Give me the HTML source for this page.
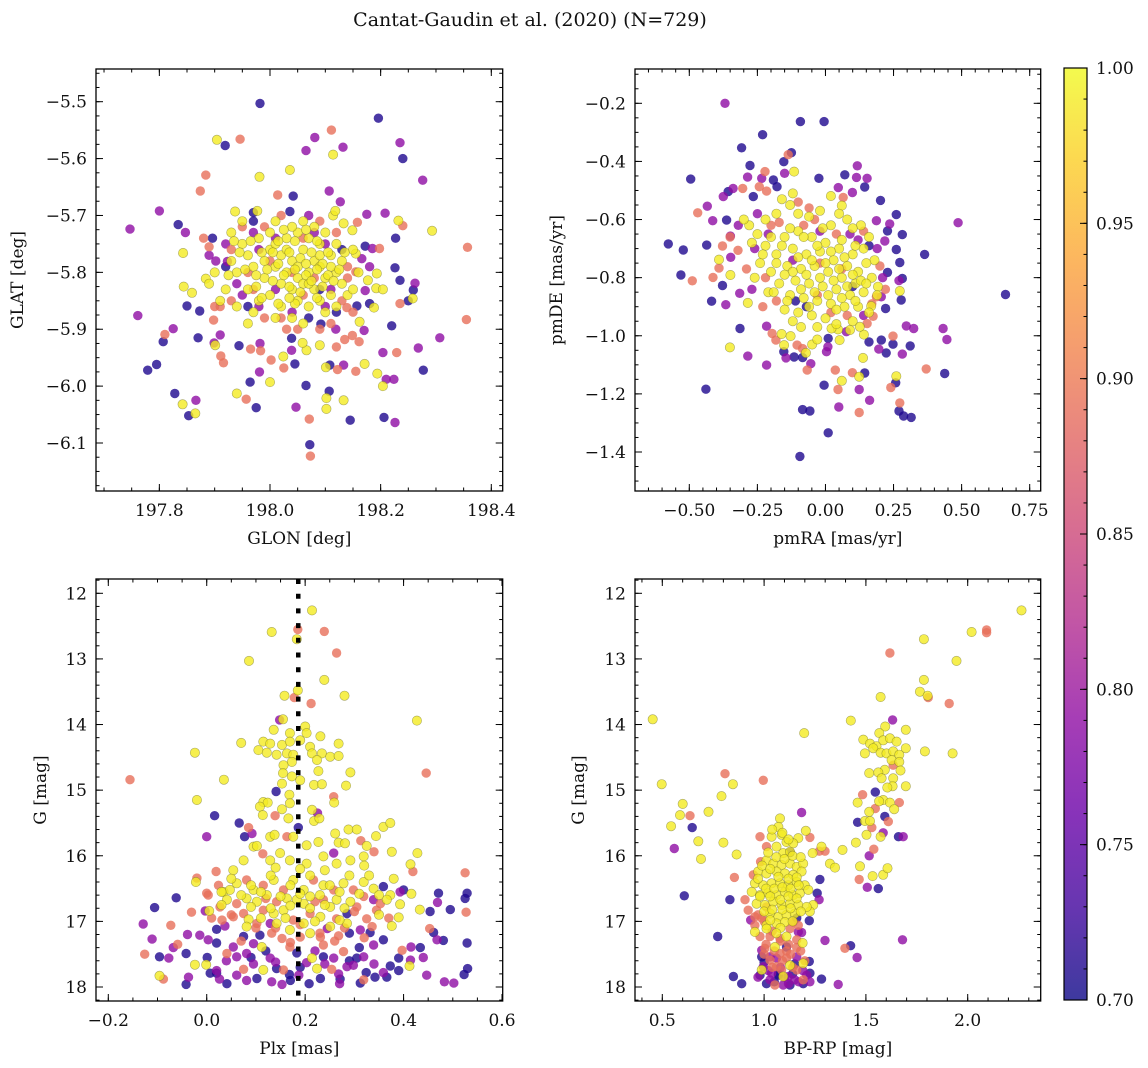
<!DOCTYPE html>
<html><head><meta charset="utf-8">
<style>
html,body{margin:0;padding:0;background:#fff;}
svg{display:block;font-family:"DejaVu Serif","Liberation Serif",serif;}
</style></head>
<body>
<svg id="fig" width="1148" height="1068" viewBox="0 0 1148 1068" xmlns="http://www.w3.org/2000/svg">
<text x="530" y="26" font-size="19" text-anchor="middle" fill="#111">Cantat-Gaudin et al. (2020) (N=729)</text>
<defs>
<linearGradient id="cbg" x1="0" y1="1" x2="0" y2="0">
<stop offset="0" stop-color="#0d0887"/><stop offset="0.1" stop-color="#41049d"/><stop offset="0.2" stop-color="#6a00a8"/><stop offset="0.3" stop-color="#8f0da4"/><stop offset="0.4" stop-color="#b12a90"/><stop offset="0.5" stop-color="#cc4778"/><stop offset="0.6" stop-color="#e16462"/><stop offset="0.7" stop-color="#f2844b"/><stop offset="0.8" stop-color="#fca636"/><stop offset="0.9" stop-color="#fcce25"/><stop offset="1" stop-color="#f0f921"/>
</linearGradient>
</defs>
<g id="cbar">
<rect x="1064" y="68" width="23" height="932" fill="url(#cbg)" opacity="0.8"/>
<rect x="1064" y="68" width="23" height="932" fill="none" stroke="#000" stroke-width="1.2"/>
</g>
</svg>
<script>
// ---------------- data ----------------
const skyTicksX = [197.8, 198.0, 198.2, 198.4];
const skyTicksY = [-5.5, -5.6, -5.7, -5.8, -5.9, -6.0, -6.1];
const pmTicksX = [-0.5, -0.25, 0, 0.25, 0.5, 0.75];
const pmTicksY = [-0.2, -0.4, -0.6, -0.8, -1.0, -1.2, -1.4];
const plxTicksX = [-0.2, 0.0, 0.2, 0.4, 0.6];
const magTicksY = [12, 13, 14, 15, 16, 17, 18];
const colTicksX = [0.5, 1.0, 1.5, 2.0];
const cbarTicks = [0.70, 0.75, 0.80, 0.85, 0.90, 0.95, 1.00];
const plxMeanLine = [0.186];

// [GLON, GLAT, membership]
const skyPoints = [
[197.982,-5.503,0.71],[198.196,-5.529,0.71],[197.904,-5.567,0.99],[197.919,-5.577,0.71],[197.946,-5.566,0.89],[198.081,-5.563,0.79],[198.111,-5.550,0.89],[198.065,-5.586,0.79],[198.114,-5.593,0.99],[198.132,-5.580,0.79],[198.235,-5.572,0.79],[198.240,-5.600,0.71],[198.276,-5.638,0.79],[198.036,-5.620,0.99],[197.981,-5.632,0.99],[197.884,-5.629,0.89],[197.874,-5.657,0.89],[198.014,-5.664,0.89],[198.042,-5.666,0.71],[198.107,-5.657,0.79],[198.127,-5.676,0.79],[197.800,-5.692,0.79],[197.747,-5.724,0.79],[197.834,-5.716,0.71],[197.847,-5.730,0.79],[197.970,-5.695,0.71],[197.937,-5.693,0.99],[197.977,-5.692,0.99],[198.036,-5.693,0.71],[198.175,-5.698,0.79],[198.208,-5.696,0.79],[198.232,-5.709,0.99],[198.240,-5.718,0.89],[198.293,-5.727,0.99],[198.357,-5.756,0.89],[198.227,-5.740,0.71],[197.843,-5.766,0.99],[197.896,-5.740,0.71],[197.890,-5.755,0.89],[197.902,-5.780,0.79],[197.923,-5.781,0.79],[198.226,-5.792,0.71],[198.235,-5.814,0.71],[198.262,-5.819,0.79],[198.259,-5.831,0.71],[197.884,-5.811,0.99],[197.844,-5.825,0.99],[197.859,-5.836,0.99],[197.850,-5.859,0.71],[197.873,-5.868,0.71],[197.761,-5.876,0.79],[197.898,-5.884,0.89],[197.825,-5.899,0.79],[197.810,-5.909,0.89],[197.807,-5.922,0.71],[197.870,-5.915,0.71],[197.910,-5.910,0.79],[197.901,-5.928,0.99],[197.899,-5.924,0.79],[197.944,-5.929,0.71],[197.911,-5.947,0.89],[197.916,-5.959,0.89],[197.795,-5.962,0.71],[197.779,-5.972,0.71],[197.965,-5.935,0.89],[197.983,-5.938,0.89],[197.982,-5.925,0.79],[198.002,-5.954,0.89],[198.024,-5.948,0.99],[198.025,-5.968,0.89],[198.045,-5.961,0.71],[197.981,-5.975,0.79],[198.000,-5.993,0.99],[197.964,-5.993,0.71],[198.065,-5.999,0.71],[198.107,-6.009,0.71],[198.102,-6.021,0.99],[198.102,-6.040,0.99],[198.133,-6.025,0.99],[198.047,-6.037,0.79],[197.940,-6.013,0.99],[197.957,-6.023,0.89],[197.975,-6.038,0.71],[197.828,-6.013,0.71],[197.842,-6.032,0.99],[197.866,-6.025,0.79],[197.853,-6.052,0.71],[197.865,-6.048,0.99],[198.071,-6.058,0.89],[198.145,-6.060,0.71],[198.206,-6.055,0.71],[198.226,-6.064,0.79],[198.072,-6.103,0.71],[198.073,-6.123,0.89],[198.101,-5.967,0.99],[198.108,-5.963,0.71],[198.122,-5.971,0.89],[198.133,-5.963,0.79],[198.155,-5.974,0.89],[198.171,-5.961,0.99],[198.194,-5.978,0.99],[198.210,-5.988,0.79],[198.224,-5.988,0.79],[198.204,-6.000,0.99],[198.277,-5.972,0.71],[198.204,-5.941,0.79],[198.229,-5.941,0.89],[198.268,-5.933,0.79],[198.307,-5.915,0.79],[198.220,-5.894,0.71],[198.355,-5.883,0.89],[198.170,-5.902,0.79],[198.161,-5.922,0.89],[198.149,-5.911,0.89],[198.135,-5.918,0.89],[198.120,-5.931,0.89],[198.119,-5.900,0.79],[198.090,-5.928,0.99],[198.066,-5.937,0.99],[198.059,-5.924,0.99],[198.039,-5.937,0.79],[198.039,-5.916,0.71],[198.092,-5.891,0.71],[198.162,-5.887,0.99],[198.157,-5.859,0.71],[198.180,-5.855,0.71],[198.188,-5.862,0.99],[198.235,-5.855,0.89],[198.258,-5.846,0.99],[198.250,-5.850,0.71],[198.139,-5.862,0.89],[198.193,-5.802,0.99],[198.177,-5.814,0.99],[198.192,-5.828,0.99],[198.204,-5.830,0.99],[198.172,-5.832,0.79],[198.198,-5.758,0.89],[198.185,-5.758,0.79],[198.172,-5.754,0.71],[198.158,-5.712,0.89],[198.149,-5.726,0.99],[198.133,-5.714,0.99],[198.114,-5.700,0.99],[198.118,-5.692,0.99],[198.155,-5.767,0.99],[198.166,-5.776,0.79],[198.180,-5.790,0.79],[198.155,-5.799,0.89],
[198.00,-5.76,0.99],[198.02,-5.77,0.99],[198.04,-5.78,0.99],[198.06,-5.76,0.99],[198.08,-5.78,0.99],[198.01,-5.79,0.99],[198.03,-5.80,0.99],[198.05,-5.81,0.99],[198.07,-5.80,0.99],[198.09,-5.79,0.99],[197.99,-5.81,0.99],[198.02,-5.82,0.99],[198.04,-5.83,0.99],[198.06,-5.82,0.99],[198.08,-5.83,0.99],[198.10,-5.81,0.99],[197.98,-5.74,0.99],[198.00,-5.73,0.99],[198.03,-5.74,0.99],[198.05,-5.73,0.99],[198.07,-5.74,0.99],[198.09,-5.75,0.99],[198.11,-5.77,0.99],[197.96,-5.77,0.99],[197.97,-5.79,0.99],[197.95,-5.75,0.99],[197.94,-5.80,0.99],[197.96,-5.83,0.99],[197.98,-5.85,0.99],[198.00,-5.84,0.99],[198.02,-5.86,0.99],[198.05,-5.85,0.99],[198.07,-5.86,0.99],[198.09,-5.85,0.99],[198.11,-5.84,0.99],[198.12,-5.80,0.99],[198.13,-5.78,0.99],[198.12,-5.75,0.99],[198.10,-5.73,0.99],[198.06,-5.71,0.99],[198.04,-5.72,0.99],[198.01,-5.71,0.99],[197.93,-5.78,0.99],[197.92,-5.83,0.99],[197.91,-5.85,0.99],[197.94,-5.86,0.99],[198.13,-5.82,0.99],[198.14,-5.84,0.99],[198.04,-5.88,0.99],[198.06,-5.89,0.99],[198.01,-5.88,0.99],[197.97,-5.87,0.99],[198.08,-5.72,0.99],[198.03,-5.76,0.99],[198.05,-5.79,0.99],[198.01,-5.75,0.99],[198.07,-5.82,0.99],[197.99,-5.78,0.99],[198.09,-5.77,0.99],[198.11,-5.79,0.99],[197.93,-5.73,0.99],[197.95,-5.71,0.99],[198.15,-5.76,0.99],[198.16,-5.80,0.99],[198.15,-5.83,0.99],[197.90,-5.80,0.99],[197.89,-5.82,0.99],[198.10,-5.87,0.99],[198.12,-5.86,0.99],[197.96,-5.89,0.99],
[197.985,-5.765,0.99],[198.015,-5.785,0.99],[198.035,-5.765,0.99],[198.055,-5.775,0.99],[198.075,-5.765,0.99],[198.095,-5.785,0.99],[197.995,-5.795,0.99],[198.025,-5.805,0.99],[198.045,-5.795,0.99],[198.065,-5.805,0.99],[198.085,-5.795,0.99],[198.105,-5.805,0.99],[197.975,-5.825,0.99],[198.005,-5.815,0.99],[198.035,-5.825,0.99],[198.055,-5.835,0.99],[198.075,-5.815,0.99],[198.095,-5.825,0.99],[198.115,-5.815,0.99],[197.965,-5.745,0.99],[198.015,-5.745,0.99],[198.045,-5.745,0.99],[198.085,-5.745,0.99],[198.105,-5.765,0.99],[197.945,-5.765,0.99],[197.955,-5.795,0.99],[197.985,-5.845,0.99],[198.015,-5.855,0.99],[198.045,-5.855,0.99],[198.085,-5.845,0.99],[198.025,-5.725,0.99],[198.065,-5.725,0.99],[197.935,-5.745,0.99],[198.125,-5.795,0.99],[198.135,-5.765,0.99],[197.925,-5.805,0.99],[198.035,-5.845,0.99],[198.005,-5.765,0.99],[198.065,-5.785,0.99],[197.975,-5.805,0.99],
[197.93,-5.76,0.89],[197.95,-5.72,0.89],[197.97,-5.73,0.79],[197.98,-5.76,0.79],[197.92,-5.79,0.71],[197.94,-5.82,0.79],[197.95,-5.84,0.79],[197.93,-5.85,0.89],[197.91,-5.86,0.89],[197.90,-5.86,0.89],[197.98,-5.86,0.79],[197.99,-5.88,0.89],[198.02,-5.88,0.89],[198.03,-5.90,0.89],[198.05,-5.90,0.89],[198.07,-5.88,0.71],[198.09,-5.90,0.89],[198.11,-5.89,0.89],[198.12,-5.87,0.71],[198.13,-5.85,0.89],[198.14,-5.81,0.89],[198.12,-5.73,0.89],[198.09,-5.71,0.89],[198.08,-5.73,0.79],[198.06,-5.74,0.89],[198.10,-5.75,0.79],[198.01,-5.74,0.79],[198.00,-5.78,0.89],[198.04,-5.80,0.89],[198.08,-5.81,0.89],[198.11,-5.83,0.79],[197.96,-5.80,0.89],[198.06,-5.84,0.89],[198.01,-5.83,0.79],[197.97,-5.71,0.71],[198.13,-5.76,0.71],[198.09,-5.83,0.71],[198.04,-5.87,0.79],[197.96,-5.86,0.71],[197.99,-5.72,0.89],[198.15,-5.87,0.89],[198.07,-5.70,0.79],[197.88,-5.74,0.89],[197.89,-5.77,0.79],[197.97,-5.83,0.89],[198.10,-5.86,0.79],[198.02,-5.70,0.89],[197.92,-5.75,0.79],[198.14,-5.79,0.89]
];

// [pmRA, pmDE, membership]
const pmPoints = [
[-0.369,-0.200,0.79],[-0.092,-0.263,0.71],[-0.005,-0.263,0.71],[-0.231,-0.308,0.71],[-0.308,-0.353,0.71],[-0.125,-0.370,0.71],[-0.137,-0.377,0.89],[-0.495,-0.461,0.71],[-0.277,-0.414,0.71],[-0.222,-0.435,0.89],[-0.286,-0.454,0.79],[-0.115,-0.435,0.99],[-0.024,-0.458,0.71],[0.071,-0.446,0.71],[0.117,-0.415,0.79],[0.114,-0.455,0.79],[0.153,-0.458,0.79],[0.144,-0.488,0.71],[0.047,-0.490,0.79],[0.099,-0.507,0.79],[0.020,-0.519,0.99],[0.065,-0.524,0.89],[0.060,-0.552,0.99],[0.202,-0.534,0.71],[0.260,-0.583,0.71],[0.487,-0.611,0.79],[0.236,-0.615,0.79],[0.187,-0.604,0.79],[0.228,-0.639,0.71],[0.282,-0.652,0.71],[0.364,-0.720,0.71],[0.260,-0.703,0.71],[0.273,-0.748,0.71],[0.218,-0.674,0.79],[0.228,-0.782,0.71],[0.270,-0.810,0.79],[0.282,-0.803,0.71],[0.278,-0.877,0.71],[0.273,-0.846,0.99],[0.221,-0.906,0.71],[0.661,-0.858,0.71],[-0.577,-0.684,0.71],[-0.522,-0.705,0.71],[-0.436,-0.688,0.71],[-0.469,-0.577,0.89],[-0.434,-0.554,0.79],[-0.414,-0.604,0.79],[-0.363,-0.602,0.71],[-0.375,-0.521,0.79],[-0.357,-0.504,0.71],[-0.339,-0.493,0.79],[-0.304,-0.493,0.89],[-0.265,-0.521,0.71],[-0.243,-0.487,0.89],[-0.216,-0.502,0.89],[-0.191,-0.464,0.71],[-0.178,-0.487,0.71],[-0.150,-0.441,0.79],[-0.153,-0.401,0.71],[-0.234,-0.458,0.79],[-0.531,-0.791,0.71],[-0.489,-0.811,0.89],[-0.418,-0.881,0.71],[-0.378,-0.827,0.71],[-0.366,-0.893,0.79],[-0.413,-0.799,0.89],[-0.391,-0.767,0.89],[-0.391,-0.738,0.99],[-0.349,-0.791,0.99],[-0.378,-0.691,0.89],[-0.349,-0.657,0.79],[-0.348,-0.730,0.79],[-0.321,-0.706,0.89],[-0.315,-0.854,0.79],[-0.285,-0.887,0.99],[-0.314,-0.975,0.71],[-0.351,-1.040,0.99],[-0.285,-1.070,0.79],[-0.216,-1.101,0.79],[-0.439,-1.184,0.71],[-0.216,-0.967,0.79],[-0.196,-0.992,0.89],[-0.182,-1.015,0.89],[-0.161,-0.994,0.99],[-0.128,-1.001,0.99],[-0.152,-1.032,0.99],[-0.153,-1.055,0.71],[-0.145,-1.076,0.79],[-0.115,-1.073,0.71],[-0.084,-1.075,0.71],[-0.104,-1.032,0.89],[-0.084,-1.044,0.89],[-0.072,-1.059,0.99],[-0.054,-1.096,0.79],[-0.067,-1.118,0.89],[-0.049,-1.030,0.99],[-0.030,-1.013,0.99],[0.009,-1.038,0.79],[0.004,-1.055,0.79],[-0.005,-1.170,0.71],[0.036,-1.118,0.89],[0.060,-1.155,0.99],[0.046,-1.185,0.89],[0.049,-1.245,0.79],[0.099,-1.127,0.89],[0.124,-1.141,0.99],[0.144,-1.128,0.71],[0.138,-1.076,0.99],[0.124,-1.185,0.79],[0.162,-1.222,0.79],[0.124,-1.264,0.89],[-0.084,-1.254,0.71],[-0.057,-1.259,0.71],[0.010,-1.334,0.71],[-0.094,-1.415,0.71],[0.240,-1.178,0.89],[0.260,-1.139,0.99],[0.258,-1.162,0.71],[0.273,-1.231,0.89],[0.270,-1.259,0.71],[0.287,-1.276,0.71],[0.315,-1.281,0.71],[0.370,-1.114,0.89],[0.438,-1.130,0.71],[0.432,-0.975,0.79],[0.446,-1.013,0.79],[0.297,-0.966,0.79],[0.324,-0.975,0.79],[0.311,-1.035,0.71],[0.282,-1.063,0.79],[0.248,-1.029,0.71],[0.248,-1.001,0.89],[0.205,-1.015,0.71],[0.196,-1.046,0.79],[0.223,-1.059,0.71],[0.160,-1.021,0.71],[0.141,-0.996,0.99],[0.126,-0.969,0.99],[0.153,-0.958,0.89],[0.175,-0.933,0.89],[0.168,-0.898,0.99],[0.187,-0.866,0.89],[0.193,-0.831,0.99],[0.205,-0.866,0.79],[0.077,-0.986,0.79],[0.046,-0.978,0.99],[0.022,-0.975,0.99],[0.052,-1.015,0.99],[0.010,-1.009,0.71],
[-0.15,-0.66,0.99],[-0.10,-0.64,0.99],[-0.05,-0.66,0.99],[0.00,-0.68,0.99],[0.05,-0.70,0.99],[0.10,-0.72,0.99],[-0.18,-0.72,0.99],[-0.12,-0.70,0.99],[-0.07,-0.72,0.99],[-0.02,-0.71,0.99],[0.03,-0.74,0.99],[0.08,-0.76,0.99],[0.12,-0.78,0.99],[-0.20,-0.78,0.99],[-0.14,-0.76,0.99],[-0.09,-0.77,0.99],[-0.04,-0.76,0.99],[0.01,-0.78,0.99],[0.06,-0.80,0.99],[0.11,-0.82,0.99],[-0.17,-0.82,0.99],[-0.11,-0.81,0.99],[-0.06,-0.82,0.99],[-0.01,-0.83,0.99],[0.04,-0.84,0.99],[0.09,-0.86,0.99],[0.14,-0.85,0.99],[-0.13,-0.86,0.99],[-0.08,-0.87,0.99],[-0.03,-0.88,0.99],[0.02,-0.89,0.99],[0.07,-0.90,0.99],[-0.15,-0.91,0.99],[-0.10,-0.92,0.99],[-0.05,-0.93,0.99],[0.00,-0.94,0.99],[-0.22,-0.69,0.99],[-0.25,-0.65,0.99],[-0.28,-0.62,0.99],[-0.30,-0.60,0.99],[-0.22,-0.60,0.99],[-0.18,-0.58,0.99],[-0.13,-0.55,0.99],[-0.10,-0.58,0.99],[-0.06,-0.59,0.99],[-0.12,-0.51,0.99],[-0.16,-0.53,0.99],[0.02,-0.62,0.99],[0.05,-0.58,0.99],[0.08,-0.60,0.99],[0.13,-0.62,0.99],[0.16,-0.66,0.99],[0.14,-0.70,0.99],[0.18,-0.74,0.99],[0.17,-0.80,0.99],[-0.24,-0.75,0.99],[-0.26,-0.80,0.99],[-0.21,-0.85,0.99],[0.12,-0.90,0.99],[0.16,-0.92,0.99],[0.19,-0.86,0.99],[-0.03,-0.97,0.99],[0.04,-0.96,0.99],[-0.09,-0.97,0.99],[0.10,-0.95,0.99],
[-0.13,-0.63,0.99],[-0.08,-0.66,0.99],[-0.03,-0.69,0.99],[0.02,-0.71,0.99],[0.07,-0.73,0.99],[-0.16,-0.69,0.99],[-0.10,-0.73,0.99],[-0.05,-0.74,0.99],[0.00,-0.75,0.99],[0.05,-0.77,0.99],[0.10,-0.79,0.99],[-0.18,-0.75,0.99],[-0.12,-0.78,0.99],[-0.07,-0.79,0.99],[-0.02,-0.80,0.99],[0.03,-0.81,0.99],[0.08,-0.83,0.99],[0.13,-0.81,0.99],[-0.15,-0.79,0.99],[-0.09,-0.84,0.99],[-0.04,-0.85,0.99],[0.01,-0.86,0.99],[0.06,-0.87,0.99],[0.11,-0.88,0.99],[-0.19,-0.85,0.99],[-0.14,-0.88,0.99],[-0.06,-0.90,0.99],[0.04,-0.91,0.99],[-0.01,-0.63,0.99],[0.06,-0.67,0.99],[0.11,-0.69,0.99],[0.15,-0.75,0.99],[-0.23,-0.72,0.99],[-0.20,-0.66,0.99],[-0.27,-0.68,0.99],[0.15,-0.82,0.99],[-0.12,-0.95,0.99],[0.09,-0.98,0.99],[-0.02,-0.57,0.99],[0.10,-0.63,0.99],
[-0.20,-0.62,0.89],[-0.25,-0.58,0.79],[-0.17,-0.61,0.89],[-0.08,-0.62,0.89],[-0.04,-0.60,0.89],[-0.06,-0.56,0.89],[-0.10,-0.54,0.89],[-0.02,-0.64,0.79],[0.04,-0.65,0.89],[0.09,-0.65,0.79],[0.12,-0.67,0.79],[0.14,-0.64,0.89],[0.16,-0.69,0.71],[0.19,-0.70,0.79],[0.20,-0.76,0.89],[0.21,-0.80,0.79],[0.22,-0.84,0.89],[0.17,-0.89,0.89],[0.14,-0.93,0.79],[0.08,-0.93,0.89],[-0.18,-0.88,0.89],[-0.23,-0.90,0.89],[-0.27,-0.84,0.79],[-0.29,-0.77,0.89],[-0.22,-0.80,0.89],[-0.26,-0.70,0.79],[-0.21,-0.65,0.79],[-0.11,-0.88,0.71],[-0.07,-0.90,0.71],[0.02,-0.92,0.89],[-0.02,-0.75,0.89],[0.06,-0.77,0.89],[-0.12,-0.74,0.79],[0.10,-0.83,0.71],[-0.03,-0.86,0.89],[-0.32,-0.62,0.79],[-0.35,-0.66,0.89]
];

// [Plx, G, membership]
const plxPoints = [
[0.214,12.26,0.99],[0.132,12.59,0.99],[0.185,12.55,0.89],[0.183,12.70,0.99],[0.239,12.58,0.89],[0.264,12.91,0.89],[0.086,13.03,0.99],[0.239,13.32,0.99],[0.158,13.56,0.99],[0.178,13.59,0.89],[0.185,13.48,0.99],[0.280,13.56,0.99],[0.212,13.68,0.89],[0.427,13.94,0.99],[-0.024,14.43,0.99],[0.070,14.28,0.99],[-0.156,14.84,0.89],[0.035,14.84,0.99],[0.446,14.74,0.89],[-0.020,15.15,0.99],[0.141,15.02,0.71],[0.016,15.39,0.71],[0.066,15.50,0.71],[0.085,15.57,0.89],[0.077,15.71,0.71],[0.000,15.71,0.79],[0.092,15.66,0.79],
[0.148,13.93,0.79],[0.155,13.92,0.99],[0.136,14.08,0.99],[0.169,14.13,0.99],[0.200,14.03,0.99],[0.203,14.13,0.99],[0.115,14.26,0.99],[0.129,14.29,0.99],[0.153,14.31,0.99],[0.169,14.26,0.99],[0.190,14.24,0.99],[0.210,14.34,0.99],[0.231,14.18,0.99],[0.268,14.29,0.99],[0.105,14.39,0.99],[0.122,14.43,0.99],[0.142,14.46,0.99],[0.163,14.44,0.99],[0.176,14.46,0.99],[0.214,14.44,0.99],[0.234,14.44,0.99],[0.251,14.49,0.99],[0.268,14.48,0.99],[0.224,14.54,0.99],[0.173,14.57,0.99],[0.156,14.62,0.99],[0.227,14.71,0.99],[0.292,14.73,0.99],[0.155,14.74,0.99],[0.173,14.79,0.99],[0.190,14.85,0.99],[0.218,14.92,0.99],[0.234,14.91,0.99],[0.283,14.93,0.99],[0.153,14.90,0.99],[0.168,15.07,0.99],[0.258,15.10,0.89],[0.259,15.19,0.99],[0.115,15.18,0.99],[0.124,15.19,0.99],[0.108,15.25,0.99],[0.114,15.38,0.99],[0.153,15.29,0.99],[0.169,15.20,0.99],[0.214,15.30,0.99],[0.225,15.35,0.79],[0.139,15.39,0.89],[0.166,15.43,0.99],[0.218,15.47,0.99],[0.229,15.43,0.99],[0.186,15.57,0.71],
[0.129,15.71,0.99],[0.138,15.68,0.99],[0.163,15.71,0.89],[0.176,15.71,0.99],[0.203,15.84,0.99],[0.227,15.79,0.99],[0.261,15.66,0.99],[0.288,15.60,0.99],[0.305,15.60,0.99],[0.268,15.80,0.99],[0.281,15.81,0.99],[0.313,15.77,0.89],[0.325,15.85,0.99],[0.344,15.70,0.99],[0.359,15.56,0.99],[0.373,15.50,0.99],[0.376,15.94,0.99],[0.340,15.94,0.89],[0.428,15.96,0.99],[0.414,16.13,0.99],[0.419,16.24,0.89],[0.525,16.26,0.89],[0.095,15.86,0.99],[0.102,15.85,0.99],[0.114,15.97,0.89],[0.129,16.07,0.99],[0.149,15.96,0.99],[0.169,16.07,0.99],[0.203,16.12,0.99],[0.237,16.01,0.99],[0.258,15.96,0.79],[0.264,16.12,0.99],[0.292,16.07,0.99],[0.319,16.01,0.99],[0.075,16.07,0.99],[0.054,16.22,0.99],[0.019,16.24,0.89],[-0.020,16.34,0.89],[-0.022,16.40,0.99],[0.000,16.57,0.89],[-0.062,16.64,0.71],[-0.106,16.79,0.71],[-0.129,17.04,0.79],[-0.073,17.06,0.89],[-0.111,17.27,0.79],[-0.126,17.50,0.89],[-0.096,17.54,0.71],[-0.077,17.56,0.79],[-0.096,17.83,0.99],[-0.088,17.88,0.89],[-0.042,17.96,0.71],[-0.037,17.85,0.79],[-0.024,17.66,0.99],[-0.001,17.66,0.99],[0.001,17.55,0.71],[0.007,17.79,0.71],[0.020,17.79,0.71],[0.041,17.95,0.71],[0.026,17.88,0.79],[-0.039,17.20,0.79],[-0.059,17.35,0.89],[-0.068,17.40,0.79],[-0.042,17.49,0.71],[-0.031,16.86,0.89],[-0.003,16.84,0.79],[0.005,16.84,0.99],[0.003,16.60,0.89],[0.024,16.45,0.89],[0.034,16.55,0.99],[0.047,16.52,0.99],[0.061,16.42,0.99],[0.081,16.37,0.89],[0.095,16.52,0.99],[0.115,16.45,0.89],[0.136,16.37,0.99],[0.156,16.52,0.89],[0.176,16.37,0.99],[0.197,16.52,0.99],[0.217,16.37,0.89],[0.237,16.45,0.99],[0.258,16.52,0.89],[0.278,16.42,0.99],[0.298,16.52,0.89],[0.319,16.40,0.99],[0.339,16.50,0.99],[0.359,16.47,0.71],[0.373,16.60,0.99],[0.393,16.55,0.79],[0.400,16.52,0.71],[0.416,16.58,0.99],[0.471,16.57,0.71],[0.469,16.71,0.79],[0.525,16.65,0.71],[0.529,16.57,0.71],[0.495,16.82,0.71],[0.454,16.85,0.71],[0.527,16.86,0.89],[0.433,16.82,0.99],[0.393,16.74,0.99],[0.376,17.07,0.99],[0.390,16.94,0.99],[0.453,17.11,0.89],[0.461,17.17,0.71],[0.481,17.29,0.71],[0.468,17.28,0.79],[0.529,17.33,0.71],[0.530,17.72,0.71],[0.523,17.81,0.71],[0.483,17.92,0.79],[0.502,17.94,0.79],[0.447,17.82,0.79],[0.434,17.40,0.71],[0.412,17.68,0.99],[0.397,17.44,0.89],[0.415,17.39,0.79],[0.414,17.59,0.79],[0.390,17.56,0.71],[0.373,17.68,0.71],[0.359,17.78,0.79],[0.366,17.85,0.71],[0.342,17.85,0.71],[0.319,17.89,0.89],[0.312,17.94,0.71],[0.324,17.78,0.71],[0.298,17.67,0.79],[0.305,17.56,0.71],[0.285,17.69,0.79],[0.268,17.80,0.79],[0.271,17.88,0.71],[0.254,17.73,0.89],[0.231,17.87,0.71],[0.208,17.95,0.71],[0.187,17.82,0.79],[0.168,17.81,0.71],[0.153,17.96,0.79],[0.132,17.92,0.79],[0.102,17.87,0.71],[0.081,17.90,0.79],[0.061,17.82,0.79],[0.075,17.73,0.89],[0.095,17.65,0.79],[0.115,17.74,0.99],[0.142,17.72,0.71],[0.156,17.74,0.89],[0.224,17.72,0.99],[0.214,17.56,0.99],[0.203,17.63,0.79],[0.237,17.54,0.71],[0.258,17.56,0.79],[0.278,17.46,0.89],[0.319,17.54,0.79],[0.339,17.36,0.79],[0.359,17.28,0.71],[0.332,17.17,0.71],[0.312,17.13,0.79],[0.290,17.18,0.71],[0.268,17.22,0.89],[0.245,17.11,0.79],[0.231,17.24,0.89],[0.210,17.18,0.99],[0.190,17.24,0.89],[0.169,17.13,0.99],[0.153,17.26,0.89],[0.132,17.18,0.89],[0.108,17.21,0.71],[0.095,17.34,0.79],[0.075,17.23,0.71],[0.054,17.39,0.79],[0.041,17.49,0.89],[0.061,17.54,0.79],[0.020,17.12,0.71],[0.037,17.07,0.79],[0.031,16.98,0.89],[0.054,16.93,0.89],[0.075,16.88,0.89],[0.085,16.97,0.99],[0.102,17.03,0.89],[0.115,16.83,0.89],[0.136,16.88,0.99],[0.129,17.03,0.79],[0.156,16.83,0.99],[0.176,16.98,0.89],[0.197,16.73,0.99],[0.210,16.88,0.89],[0.231,16.93,0.99],[0.251,16.78,0.99],[0.264,16.96,0.89],[0.285,16.88,0.71],[0.305,16.78,0.89],[0.325,16.96,0.89],[0.345,16.83,0.89],[0.366,16.67,0.99],[0.353,16.73,0.89],[0.081,16.65,0.99],[0.061,16.73,0.89],[0.041,16.67,0.99],[0.027,16.78,0.89],[0.102,16.70,0.99],[0.122,16.60,0.99],[0.142,16.70,0.89],[0.163,16.65,0.99],[0.183,16.67,0.99],[0.210,16.62,0.99],[0.237,16.67,0.89],[0.264,16.67,0.99],[0.292,16.70,0.99],[0.319,16.62,0.89],[0.339,16.67,0.79],[0.336,17.08,0.89],[0.285,17.03,0.99],[0.251,17.08,0.99],[0.197,17.03,0.99],[0.142,17.03,0.99],[0.081,17.08,0.99],[0.112,17.39,0.99],[0.169,17.39,0.89],[0.237,17.36,0.89],[0.183,17.48,0.71],[0.129,17.56,0.79],[0.081,17.49,0.79],[0.020,17.33,0.71],[0.003,17.28,0.79],[-0.014,17.21,0.79],
[0.05,16.35,0.99],[0.09,16.45,0.99],[0.13,16.30,0.99],[0.17,16.45,0.99],[0.21,16.30,0.99],[0.25,16.45,0.99],[0.29,16.30,0.99],[0.33,16.30,0.99],[0.07,16.60,0.99],[0.11,16.55,0.99],[0.15,16.62,0.99],[0.19,16.58,0.99],[0.23,16.60,0.99],[0.27,16.55,0.99],[0.31,16.58,0.99],[0.35,16.60,0.99],[0.03,16.75,0.99],[0.09,16.78,0.99],[0.13,16.80,0.99],[0.17,16.76,0.99],[0.21,16.80,0.99],[0.24,16.75,0.99],[0.28,16.80,0.99],[0.35,16.90,0.99],[0.11,16.95,0.99],[0.16,16.95,0.99],[0.22,17.00,0.99],[0.27,16.98,0.99],[0.19,16.20,0.99],[0.14,16.18,0.99],[0.24,16.22,0.99],[0.32,16.15,0.99],[0.38,16.35,0.99],[0.03,16.55,0.99],
[0.05,16.90,0.89],[0.10,17.10,0.89],[0.14,17.10,0.89],[0.19,17.05,0.89],[0.23,17.18,0.89],[0.28,17.10,0.89],[0.32,17.25,0.89],[0.07,17.30,0.89],[0.17,17.32,0.89],[0.26,17.30,0.89],[0.12,16.65,0.89],[0.22,16.70,0.89],[0.30,16.85,0.89],[0.01,16.95,0.89],[0.37,16.95,0.89],
[0.04,17.60,0.79],[0.09,17.55,0.71],[0.14,17.62,0.79],[0.19,17.70,0.71],[0.24,17.65,0.79],[0.29,17.60,0.71],[0.34,17.65,0.79],[0.39,17.75,0.71],[0.12,17.45,0.71],[0.22,17.45,0.79],[0.31,17.40,0.71],[0.44,17.55,0.79],[0.02,17.75,0.79],[0.17,17.90,0.71],[0.27,17.95,0.79]
];

// [BP-RP, G, membership]
const cmdPoints = [
[2.264,12.26,0.99],[2.019,12.59,0.99],[2.093,12.56,0.89],[2.093,12.60,0.89],[1.785,12.70,0.99],[1.618,12.91,0.89],[1.945,13.03,0.99],[1.785,13.32,0.99],[1.765,13.50,0.99],[1.803,13.56,0.99],[1.806,13.59,0.89],[1.909,13.68,0.89],[1.572,13.58,0.99],[0.453,13.92,0.99],[1.426,13.94,0.99],[1.197,14.13,0.99],[1.631,13.93,0.79],[1.595,14.03,0.99],[1.566,14.13,0.99],[1.696,14.08,0.99],[1.790,14.41,0.99],[1.926,14.44,0.99],[0.497,14.91,0.99],[0.808,14.75,0.89],[0.847,14.91,0.99],[0.996,14.85,0.89],[0.791,15.09,0.99],[0.600,15.21,0.99],[0.587,15.38,0.99],[0.636,15.39,0.89],[0.727,15.33,0.99],[0.543,15.55,0.99],[0.647,15.57,0.71],[0.677,15.78,0.99],[0.559,15.89,0.79],[0.690,16.05,0.99],[0.800,15.80,0.99],[0.865,15.98,0.99],[0.608,16.61,0.71],[0.772,17.23,0.71],[0.832,16.67,0.71],[0.854,16.33,0.89],[0.849,17.84,0.71],[0.890,17.95,0.71],[1.282,17.88,0.71],[1.364,17.96,0.79],[1.299,17.29,0.79],[1.397,17.41,0.89],[1.425,17.37,0.71],[1.457,17.55,0.79],[1.680,17.28,0.79],[1.184,15.34,0.79],
[1.487,14.23,0.99],[1.520,14.29,0.99],[1.552,14.33,0.99],[1.585,14.24,0.99],[1.618,14.21,0.99],[1.651,14.26,0.99],[1.495,14.44,0.99],[1.536,14.36,0.99],[1.572,14.43,0.99],[1.601,14.44,0.99],[1.634,14.41,0.99],[1.664,14.46,0.99],[1.696,14.36,0.99],[1.626,14.54,0.99],[1.664,14.57,0.99],[1.670,14.70,0.99],[1.593,14.69,0.99],[1.561,14.73,0.99],[1.516,14.74,0.99],[1.577,14.82,0.99],[1.634,14.82,0.99],[1.631,14.94,0.99],[1.696,14.94,0.99],[1.605,14.96,0.99],[1.585,15.15,0.99],[1.618,15.19,0.99],[1.639,15.29,0.99],[1.459,15.19,0.99],[1.516,15.33,0.99],[1.495,15.47,0.99],[1.520,15.47,0.99],[1.503,15.68,0.99],[1.572,15.71,0.99],[1.565,15.17,0.99],[1.664,15.19,0.89],[1.484,15.07,0.89],[1.546,15.28,0.89],[1.529,15.57,0.89],[1.585,15.65,0.79],[1.593,15.40,0.71],[1.610,15.48,0.89],[1.459,15.49,0.71],[1.660,15.71,0.71],[1.683,15.71,0.79],[1.539,15.90,0.89],[1.516,16.00,0.79],[1.471,16.16,0.99],[1.533,16.31,0.99],[1.585,16.29,0.99],[1.606,16.19,0.99],[1.467,16.36,0.89],[1.507,16.48,0.79],[1.561,16.50,0.71],[1.451,15.80,0.99],[1.385,15.91,0.99],[1.546,15.03,0.71],[1.634,14.62,0.89],
[1.225,15.72,0.89],[1.282,15.86,0.99],[1.238,15.96,0.99],[1.323,16.12,0.99],[1.348,16.18,0.99],[1.271,15.93,0.89],[1.299,15.93,0.89],[1.205,15.62,0.99],[1.168,15.73,0.99],[1.274,16.36,0.71],[1.261,16.57,0.71],[1.270,16.67,0.79],[1.241,16.75,0.99],[1.225,16.85,0.99],[1.222,16.99,0.71],[1.184,17.17,0.79],[1.189,17.33,0.99],[1.222,17.61,0.71],
[1.078,15.43,0.99],[1.070,15.56,0.99],[1.037,15.71,0.99],[1.086,15.68,0.99],[1.110,15.79,0.99],[1.143,15.81,0.99],[1.061,15.86,0.99],[1.094,15.96,0.99],[1.127,15.94,0.99],[1.012,16.07,0.99],[1.045,16.12,0.99],[1.086,16.14,0.99],[1.127,16.12,0.99],[1.160,16.17,0.99],[1.192,16.12,0.99],[0.971,16.24,0.99],[1.012,16.27,0.99],[1.061,16.24,0.99],[1.102,16.27,0.99],[1.143,16.29,0.99],[1.184,16.24,0.99],[0.955,16.42,0.99],[0.996,16.45,0.99],[1.037,16.42,0.99],[1.078,16.42,0.99],[1.119,16.45,0.99],[1.160,16.40,0.99],[1.200,16.45,0.99],[0.939,16.55,0.99],[0.980,16.60,0.99],[1.020,16.57,0.99],[1.061,16.60,0.99],[1.102,16.55,0.99],[1.143,16.60,0.99],[1.176,16.57,0.99],[1.217,16.52,0.99],[0.963,16.73,0.99],[1.004,16.75,0.99],[1.045,16.70,0.99],[1.086,16.75,0.99],[1.127,16.73,0.99],[1.168,16.75,0.99],[1.209,16.78,0.99],[1.029,16.88,0.99],[1.070,16.93,0.99],[1.110,16.90,0.99],[1.151,16.88,0.99],[1.012,17.06,0.99],[1.061,17.03,0.99],[1.102,17.01,0.99],[0.955,17.16,0.99],[1.012,17.11,0.99],[1.110,17.23,0.99],[1.053,17.39,0.99],[1.127,17.67,0.99],[1.094,17.84,0.99],[0.988,17.74,0.99],[1.192,17.64,0.99],
[1.04,15.60,0.99],[1.09,15.65,0.99],[1.12,15.75,0.99],[1.02,15.95,0.99],[1.06,16.02,0.99],[1.10,16.05,0.99],[1.14,16.00,0.99],[1.18,16.02,0.99],[0.99,16.15,0.99],[1.03,16.20,0.99],[1.07,16.32,0.99],[1.12,16.35,0.99],[1.16,16.33,0.99],[0.97,16.35,0.99],[1.01,16.50,0.99],[1.05,16.50,0.99],[1.09,16.48,0.99],[1.13,16.50,0.99],[1.17,16.45,0.99],[0.98,16.62,0.99],[1.03,16.62,0.99],[1.08,16.67,0.99],[1.12,16.62,0.99],[1.16,16.65,0.99],[1.00,16.85,0.99],[1.04,16.82,0.99],[1.09,16.82,0.99],[1.13,16.80,0.99],[1.18,16.85,0.99],[1.03,16.98,0.99],[1.08,17.10,0.99],[1.14,17.00,0.99],[1.06,17.18,0.99],
[0.980,15.71,0.89],[1.012,15.86,0.89],[0.983,16.09,0.89],[0.947,16.29,0.89],[0.906,16.67,0.89],[0.922,16.83,0.89],[0.955,16.93,0.89],[0.988,16.95,0.89],[1.012,16.78,0.89],[1.143,17.01,0.89],[1.168,17.06,0.89],[0.955,17.06,0.89],[0.980,17.23,0.89],[1.029,17.23,0.89],[1.078,17.26,0.89],[1.127,17.11,0.89],[1.160,17.28,0.89],[1.004,17.41,0.89],[1.078,17.49,0.89],[1.110,17.56,0.89],[1.029,17.59,0.89],[1.061,17.69,0.89],[1.160,17.74,0.89],[1.086,17.74,0.89],[1.053,17.97,0.89],[1.192,17.89,0.89],
[0.97,16.90,0.89],[1.00,17.00,0.89],[1.04,17.15,0.89],[1.08,17.30,0.89],[1.12,17.35,0.89],[1.16,17.40,0.89],[1.01,17.35,0.89],[1.05,17.45,0.89],[1.13,17.50,0.89],[1.18,17.45,0.89],[1.00,17.50,0.89],[1.09,17.60,0.89],[1.14,17.70,0.89],[1.20,17.60,0.89],[1.04,17.70,0.89],[1.11,17.45,0.89],
[0.934,16.98,0.79],[0.988,17.44,0.79],[1.029,17.54,0.79],[1.061,17.56,0.79],[1.119,17.84,0.79],[1.151,17.89,0.79],[1.094,17.97,0.79],[1.029,17.89,0.79],[1.209,17.82,0.79],[1.225,17.92,0.79],[0.996,17.69,0.79],[1.168,17.16,0.79],[1.037,17.79,0.79],[1.160,17.54,0.79],
[1.02,17.75,0.79],[1.07,17.80,0.71],[1.10,17.85,0.79],[1.14,17.80,0.71],[1.17,17.92,0.79],[1.05,17.92,0.71],[1.00,17.62,0.71],[1.19,17.75,0.79],[1.12,17.95,0.79],[1.08,17.70,0.79],[1.15,17.65,0.71],[0.97,17.85,0.79],
[0.988,17.54,0.71],[0.980,17.82,0.71],[1.012,17.95,0.71],[1.127,17.97,0.71],[1.192,17.95,0.71],[1.110,17.39,0.71],[1.225,17.79,0.71],[1.070,17.82,0.71],[1.127,15.95,0.71],[1.160,16.95,0.71]
];

// ---------------- rendering ----------------
const NS = 'http://www.w3.org/2000/svg';
const svg = document.getElementById('fig');
const plasma = [[13,8,135],[65,4,157],[106,0,168],[143,13,164],[177,42,144],[204,71,120],[225,100,98],[242,132,75],[252,166,54],[252,206,37],[240,249,33]];
function cmap(p){
  let t = Math.max(0, Math.min(1, (p - 0.7) / 0.3)) * 10;
  const i = Math.min(9, Math.floor(t)); const f = t - i;
  const a = plasma[i], b = plasma[i + 1];
  return 'rgb(' + [0,1,2].map(k => Math.round(a[k] + (b[k] - a[k]) * f)).join(',') + ')';
}
function lin(d0, d1, r0, r1){ const s = v => r0 + (v - d0) * (r1 - r0) / (d1 - d0); s.inv = r => d0 + (r - r0) * (d1 - d0) / (r1 - r0); return s; }
function mk(tag, attrs, parent){ const e = document.createElementNS(NS, tag); for (const k in attrs) e.setAttribute(k, attrs[k]); (parent || svg).appendChild(e); return e; }
function fmt(v, dec){ const s = Math.abs(v).toFixed(dec); return (v < -1e-9 ? '\u2212' : '') + s; }

const panels = [
 {name:'sky', pts: skyPoints, rect:[96,69,502.7,491], sx: lin(198.0,198.4,270,491.3), sy: lin(-5.5,-6.1,101.7,443), xt: skyTicksX, yt: skyTicksY, xdec:1, ydec:1, xminor:0.05, yminor:0.025, xl:'GLON [deg]', yl:'GLAT [deg]', ylx:18},
 {name:'proper-motion', pts: pmPoints, rect:[635,69,1040.7,491], sx: lin(-0.5,0.75,689.3,1029.7), sy: lin(-0.2,-1.4,103.3,452), xt: pmTicksX, yt: pmTicksY, xdec:2, ydec:1, xminor:0.05, yminor:0.05, xl:'pmRA [mas/yr]', yl:'pmDE [mas/yr]', ylx:557},
 {name:'parallax-magnitude', pts: plxPoints, rect:[96,579,502.7,1001], sx: lin(-0.2,0.6,108.3,502), sy: lin(12,18,593.3,987), xt: plxTicksX, yt: magTicksY, xdec:1, ydec:0, xminor:0.05, yminor:0.2, xl:'Plx [mas]', yl:'G [mag]', ylx:41},
 {name:'color-magnitude', pts: cmdPoints, rect:[635,579,1040.7,1001], sx: lin(0.5,2.0,662.3,967.7), sy: lin(12,18,593.3,987), xt: colTicksX, yt: magTicksY, xdec:1, ydec:0, xminor:0.1, yminor:0.2, xl:'BP-RP [mag]', yl:'G [mag]', ylx:579}
];

panels.forEach((P, pi) => {
  const [x0,y0,x1,y1] = P.rect;
  const g = mk('g', {});
  
  
  const clipId = 'clip' + pi;
  const cp = mk('clipPath', {id: clipId}, g);
  mk('rect', {x:x0, y:y0, width:x1-x0, height:y1-y0}, cp);
  const pg = mk('g', {'clip-path':'url(#' + clipId + ')'}, g);
  
  
  const sorted = P.pts.slice().sort((a,b) => a[2] - b[2]);
  sorted.forEach(d => {
    const c = mk('circle', {cx: P.sx(d[0]).toFixed(1), cy: P.sy(d[1]).toFixed(1), r: 4.7, fill: cmap(d[2]), 'fill-opacity': 0.8, stroke: d[2] > 0.95 ? '#6b6b2a' : 'none', 'stroke-opacity': 0.55, 'stroke-width': 0.6}, pg);
    
    
  });
  if (pi === 2) {
    const xl = P.sx(plxMeanLine[0]);
    const ln = mk('line', {x1: xl, x2: xl, y1: y0, y2: y1, stroke: '#000', 'stroke-width': 4.5, 'stroke-dasharray': '5 9.7'}, g);
    
    
  }
  const tg = mk('g', {stroke:'#000', 'stroke-width':1}, g);
  
  
  const xa = Math.min(P.sx.inv(x0), P.sx.inv(x1)), xb = Math.max(P.sx.inv(x0), P.sx.inv(x1));
  for (let v = Math.ceil(xa / P.xminor) * P.xminor; v <= xb + 1e-9; v += P.xminor) {
    const x = P.sx(v); mk('line', {x1:x, x2:x, y1:y1, y2:y1-3.5}, tg); mk('line', {x1:x, x2:x, y1:y0, y2:y0+3.5}, tg);
  }
  const ya = Math.min(P.sy.inv(y0), P.sy.inv(y1)), yb = Math.max(P.sy.inv(y0), P.sy.inv(y1));
  for (let v = Math.ceil(ya / P.yminor) * P.yminor; v <= yb + 1e-9; v += P.yminor) {
    const y = P.sy(v); mk('line', {x1:x0, x2:x0+3.5, y1:y, y2:y}, tg); mk('line', {x1:x1, x2:x1-3.5, y1:y, y2:y}, tg);
  }
  P.xt.forEach(v => {
    const x = P.sx(v);
    mk('line', {x1:x, x2:x, y1:y1, y2:y1-7}, tg); mk('line', {x1:x, x2:x, y1:y0, y2:y0+7}, tg);
    const t = mk('text', {x:x, y:y1+25, 'font-size':17, 'text-anchor':'middle', fill:'#111', stroke:'none'}, g);
    t.textContent = fmt(v, P.xdec);
    
    
  });
  P.yt.forEach(v => {
    const y = P.sy(v);
    mk('line', {x1:x0, x2:x0+7, y1:y, y2:y}, tg); mk('line', {x1:x1, x2:x1-7, y1:y, y2:y}, tg);
    const t = mk('text', {x:x0-9, y:y+6, 'font-size':17, 'text-anchor':'end', fill:'#111', stroke:'none'}, g);
    t.textContent = fmt(v, P.ydec);
    
    
  });
  const fr = mk('rect', {x:x0, y:y0, width:x1-x0, height:y1-y0, fill:'none', stroke:'#000', 'stroke-width':1.3}, g);
  
  
  const xt = mk('text', {x:(x0+x1)/2, y:y1+53, 'font-size':17, 'text-anchor':'middle', fill:'#111'}, g);
  xt.textContent = P.xl;
  
  
  const yc = (y0+y1)/2;
  const yt = mk('text', {x:P.ylx, y:yc, 'font-size':17, 'text-anchor':'middle', fill:'#111', transform:'rotate(-90 ' + P.ylx + ' ' + yc + ')', 'dominant-baseline':'central'}, g);
  yt.textContent = P.yl;
  
  
});

const cb = document.getElementById('cbar');
const cs = lin(0.7, 1.0, 1000, 68);
for (let v = 0.70; v <= 1.0001; v += 0.01) {
  const y = cs(v);
  mk('line', {x1:1087, x2:1083.5, y1:y, y2:y, stroke:'#000', 'stroke-width':1}, cb);
}
cbarTicks.forEach(v => {
  const y = cs(v);
  mk('line', {x1:1087, x2:1080, y1:y, y2:y, stroke:'#000', 'stroke-width':1}, cb);
  const t = mk('text', {x:1096, y:y+6, 'font-size':17, fill:'#111'}, cb);
  t.textContent = v.toFixed(2);
  
  
});
</script>
</body></html>
